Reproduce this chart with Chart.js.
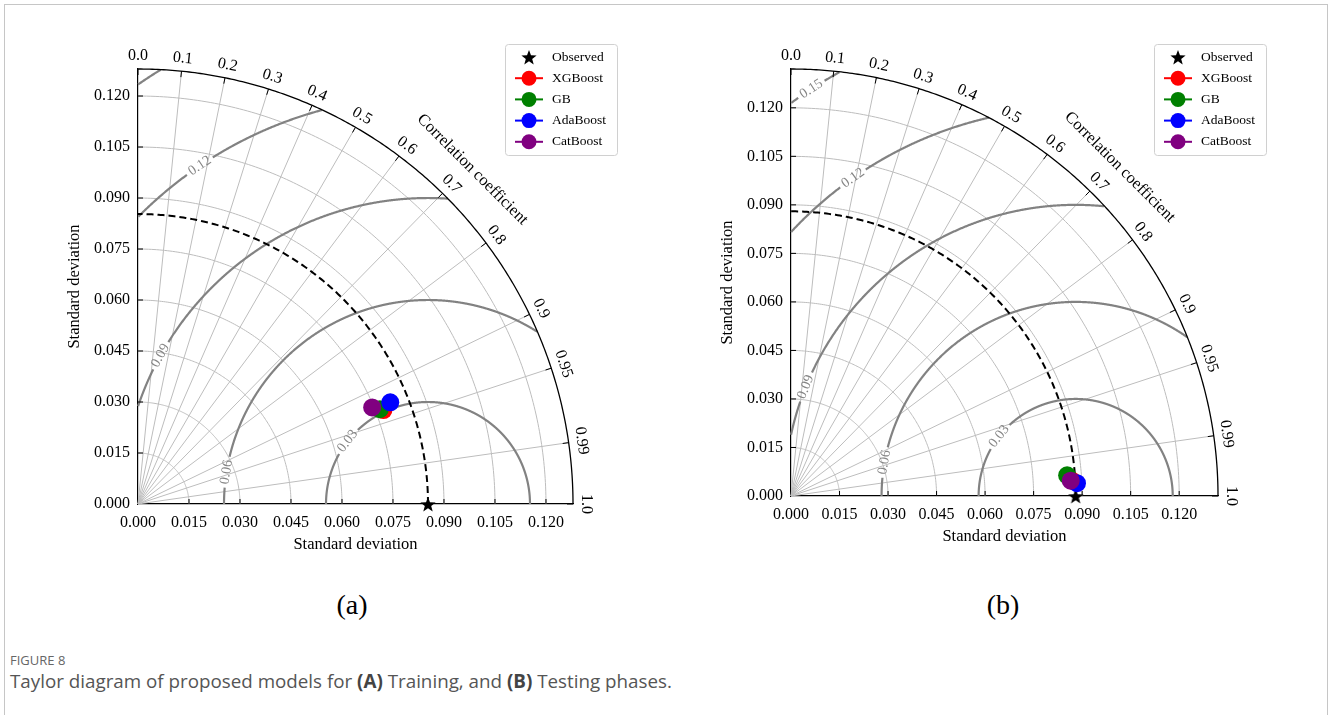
<!DOCTYPE html>
<html>
<head>
<meta charset="utf-8">
<script src="https://cdn.jsdelivr.net/npm/chart.js@4.4.1/dist/chart.umd.min.js"></script>
<style>
  html, body { margin: 0; padding: 0; background: #fff; }
  body { width: 1328px; height: 715px; position: relative; overflow: hidden; }
  #frame { position: absolute; left: 4px; top: 4px; width: 1322px; height: 740px; border: 1px solid #c6c6c6; }
  canvas { position: absolute; top: 0; }
  #cA { left: 0; }
  #cB { left: 660px; }
  .tag { position: absolute; top: 589px; width: 100px; text-align: center; font: 28px "Liberation Serif"; line-height: 32px; color: #000; }
  #fig { position: absolute; left: 10px; top: 651px; font: 13px "Open Sans"; color: #666; }
  #cap { position: absolute; left: 10px; top: 668px; font: 18.8px "Open Sans"; color: #555; white-space: nowrap; }
  #cap b { color: #444; }
</style>
</head>
<body>
<div id="frame"></div>
<canvas id="cA" width="660" height="570"></canvas>
<canvas id="cB" width="660" height="570"></canvas>
<div class="tag" style="left:302px">(a)</div>
<div class="tag" style="left:953px">(b)</div>
<div id="fig">FIGURE 8</div>
<div id="cap">Taylor diagram of proposed models for <b>(A)</b> Training, and <b>(B)</b> Testing phases.</div>
<script>
// data
const seriesNames = ['XGBoost', 'GB', 'AdaBoost', 'CatBoost'];

// (a) training
const refStdA = 0.0853;
const stdA = [0.0773, 0.0764, 0.0800, 0.0745];
const corrA = [0.934, 0.931, 0.9275, 0.9245];

// (b) testing
const refStdB = 0.0880;
const stdB = [0.0870, 0.0856, 0.0885, 0.0866];
const corrB = [0.9985, 0.9972, 0.9990, 0.9985];

const stdTicks = [0, 0.015, 0.030, 0.045, 0.060, 0.075, 0.090, 0.105, 0.120];
const corrTicks = [0, 0.1, 0.2, 0.3, 0.4, 0.5, 0.6, 0.7, 0.8, 0.9, 0.95, 0.99, 1.0];
const corrTickLabels = ['0.0', '0.1', '0.2', '0.3', '0.4', '0.5', '0.6', '0.7', '0.8', '0.9', '0.95', '0.99', '1.0'];
const rmsLevels = [0.03, 0.06, 0.09, 0.12, 0.15];

const colors = ['#ff0000', '#008000', '#0000ff', '#800080'];
const SERIF = '"Liberation Serif", "Times New Roman", serif';

function starImage(size) {
  const c = document.createElement('canvas');
  c.width = c.height = size;
  const g = c.getContext('2d');
  const R = size / 2, r = R * 0.42;
  g.beginPath();
  for (let i = 0; i < 10; i++) {
    const a = -Math.PI / 2 + i * Math.PI / 5;
    const rr = i % 2 ? r : R;
    g.lineTo(R + rr * Math.cos(a), R + 1 + rr * Math.sin(a));
  }
  g.closePath();
  g.fillStyle = '#000';
  g.fill();
  return c;
}
const star = starImage(16);

const taylor = {
  id: 'taylor',
  beforeDatasetsDraw(chart, args, o) {
    const ctx = chart.ctx;
    const xs = chart.scales.x, ys = chart.scales.y;
    const rmax = xs.max, ref = o.refStd;
    const P = (x, y) => [xs.getPixelForValue(x), ys.getPixelForValue(y)];
    const ppu = xs.getPixelForValue(1) - xs.getPixelForValue(0);
    const line = (pts, color, w, dash) => {
      ctx.beginPath();
      pts.forEach((p, i) => i ? ctx.lineTo(p[0], p[1]) : ctx.moveTo(p[0], p[1]));
      ctx.strokeStyle = color;
      ctx.lineWidth = w;
      ctx.setLineDash(dash || []);
      ctx.stroke();
      ctx.setLineDash([]);
    };
    const arcPts = (r, n) => {
      const out = [];
      for (let i = 0; i <= n; i++) {
        const t = i / n * Math.PI / 2;
        out.push(P(r * Math.cos(t), r * Math.sin(t)));
      }
      return out;
    };
    ctx.save();

    // std grid arcs + correlation rays
    stdTicks.filter(s => s > 0).forEach(s => line(arcPts(s, 150), '#bdbdbd', 1));
    corrTicks.filter(c => c > 0 && c < 1).forEach(c =>
      line([P(0, 0), P(rmax * c, rmax * Math.sqrt(1 - c * c))], '#bdbdbd', 1));

    // RMS difference contours
    ctx.font = '14px ' + SERIF;
    rmsLevels.forEach(L => {
      const ang = o.labelAngles[L];
      const txt = L.toFixed(2);
      let gap = null;
      if (ang !== undefined) {
        const d = (ctx.measureText(txt).width / 2 + 3) / (L * ppu);
        gap = [ang * Math.PI / 180 - d, ang * Math.PI / 180 + d];
      }
      const N = 1600;
      let run = [];
      for (let i = 0; i <= N; i++) {
        const f = i / N * Math.PI;
        const x = ref + L * Math.cos(f), y = L * Math.sin(f);
        const ok = x >= 0 && x * x + y * y <= rmax * rmax && !(gap && f > gap[0] && f < gap[1]);
        if (ok) run.push(P(x, y));
        else { if (run.length > 1) line(run, '#828282', 2.2); run = []; }
      }
      if (run.length > 1) line(run, '#828282', 2.2);
      if (ang !== undefined) {
        const a = ang * Math.PI / 180;
        const p = P(ref + L * Math.cos(a), L * Math.sin(a));
        let dx = -Math.sin(a), dy = -Math.cos(a);
        if (dx < 0) { dx = -dx; dy = -dy; }
        ctx.save();
        ctx.translate(p[0], p[1]);
        ctx.rotate(Math.atan2(dy, dx));
        ctx.fillStyle = '#858585';
        ctx.textAlign = 'center';
        ctx.textBaseline = 'middle';
        ctx.fillText(txt, 0, 0);
        ctx.restore();
      }
    });

    // reference std (dashed) and outer frame
    line(arcPts(ref, 200), '#000', 2, [7, 4]);
    line(arcPts(rmax, 240), '#000', 1.3);

    // inward ticks on both std axes
    stdTicks.filter(s => s > 0).forEach(s => {
      const a = P(s, 0), b = P(0, s);
      line([a, [a[0], a[1] - 5]], '#000', 1);
      line([b, [b[0] + 5, b[1]]], '#000', 1);
    });

    // correlation ticks and labels
    const O = P(0, 0);
    ctx.fillStyle = '#000';
    ctx.textAlign = 'center';
    ctx.textBaseline = 'middle';
    corrTicks.forEach((c, i) => {
      const E = P(rmax * c, rmax * Math.sqrt(1 - c * c));
      const len = Math.hypot(E[0] - O[0], E[1] - O[1]);
      const ux = (E[0] - O[0]) / len, uy = (E[1] - O[1]) / len;
      line([[E[0] - 6 * ux, E[1] - 6 * uy], E], '#000', 1);
      ctx.save();
      ctx.font = '16px ' + SERIF;
      ctx.translate(O[0] + (len + 13) * ux, O[1] + (len + 13) * uy);
      ctx.rotate(Math.PI / 2 + Math.atan2(uy, ux));
      ctx.fillText(corrTickLabels[i], 0, 0);
      ctx.restore();
    });
    {
      const c = Math.SQRT1_2;
      const E = P(rmax * c, rmax * c);
      const len = Math.hypot(E[0] - O[0], E[1] - O[1]);
      const ux = (E[0] - O[0]) / len, uy = (E[1] - O[1]) / len;
      ctx.save();
      ctx.font = '16.5px ' + SERIF;
      ctx.translate(O[0] + (len + 38) * ux, O[1] + (len + 38) * uy);
      ctx.rotate(Math.PI / 2 + Math.atan2(uy, ux));
      ctx.fillText('Correlation coefficient', 0, 0);
      ctx.restore();
    }
    ctx.restore();
  },
  afterDraw(chart, args, o) {
    const ctx = chart.ctx;
    const bx = chart.chartArea.left + o.legendDx, by = 44, bw = 112, bh = 111;
    ctx.save();
    ctx.fillStyle = '#fff';
    ctx.strokeStyle = '#d0d0d0';
    ctx.lineWidth = 1;
    ctx.beginPath();
    ctx.roundRect(bx + 0.5, by + 0.5, bw, bh, 3);
    ctx.fill();
    ctx.stroke();
    ctx.font = '13.5px ' + SERIF;
    ctx.textBaseline = 'middle';
    ctx.textAlign = 'left';
    chart.data.datasets.forEach((ds, i) => {
      const y = by + 13 + i * 21.2, mx = bx + 24;
      if (ds.pointStyle instanceof HTMLCanvasElement) {
        ctx.drawImage(ds.pointStyle, mx - ds.pointStyle.width / 2, y - ds.pointStyle.height / 2);
      } else {
        ctx.beginPath();
        ctx.moveTo(bx + 10, y);
        ctx.lineTo(bx + 38, y);
        ctx.strokeStyle = ds.pointBackgroundColor;
        ctx.lineWidth = 2;
        ctx.stroke();
        ctx.beginPath();
        ctx.arc(mx, y, 7.5, 0, Math.PI * 2);
        ctx.fillStyle = ds.pointBackgroundColor;
        ctx.fill();
      }
      ctx.fillStyle = '#000';
      ctx.fillText(ds.label, bx + 47, y);
    });
    ctx.restore();
  }
};

function makeChart(id, refStd, std, corr, lay) {
  const rmax = 1.5 * refStd;
  const datasets = [{
    label: 'Observed',
    data: [{ x: refStd, y: 0 }],
    pointStyle: star,
    pointRadius: 8,
    order: 10,
    clip: false
  }];
  seriesNames.forEach((name, i) => datasets.push({
    label: name,
    data: [{ x: std[i] * corr[i], y: std[i] * Math.sqrt(1 - corr[i] * corr[i]) }],
    pointBackgroundColor: colors[i],
    pointBorderColor: colors[i],
    pointBorderWidth: 0,
    pointRadius: 9,
    order: 4 - i,
    clip: false
  }));
  const tickFont = { family: SERIF, size: 16 };
  const titleFont = { family: SERIF, size: 16.5 };
  return new Chart(document.getElementById(id), {
    type: 'scatter',
    data: { datasets: datasets },
    options: {
      responsive: false,
      animation: false,
      devicePixelRatio: 1,
      events: [],
      layout: { padding: { left: lay.left, top: 69, right: lay.right, bottom: 0 } },
      plugins: {
        legend: { display: false },
        tooltip: { enabled: false },
        taylor: { refStd: refStd, labelAngles: lay.labelAngles, legendDx: lay.legendDx }
      },
      scales: {
        x: {
          type: 'linear', min: 0, max: rmax,
          afterBuildTicks: s => { s.ticks = stdTicks.map(v => ({ value: v })); },
          afterFit: s => { s.height = lay.xh; },
          grid: { display: false, drawTicks: false },
          border: { display: true, color: '#000', width: 1.2 },
          ticks: { autoSkip: false, maxRotation: 0, padding: 9, color: '#000', font: tickFont, callback: v => v.toFixed(3) },
          title: { display: true, text: 'Standard deviation', color: '#000', font: titleFont, padding: { top: 0, bottom: lay.tb } }
        },
        y: {
          type: 'linear', min: 0, max: rmax,
          afterBuildTicks: s => { s.ticks = stdTicks.map(v => ({ value: v })); },
          afterFit: s => { s.width = 108; },
          grid: { display: false, drawTicks: false },
          border: { display: true, color: '#000', width: 1.2 },
          ticks: { autoSkip: false, padding: 8, color: '#000', font: tickFont, callback: v => v.toFixed(3) },
          title: { display: true, text: 'Standard deviation', color: '#000', font: titleFont, padding: { top: 35, bottom: 0 } }
        }
      }
    },
    plugins: [taylor]
  });
}

makeChart('cA', refStdA, stdA, corrA, {
  left: 30, right: 87, xh: 66, tb: 15, legendDx: 367,
  labelAngles: { 0.03: 142, 0.06: 171, 0.09: 151, 0.12: 124 }
});
makeChart('cB', refStdB, stdB, corrB, {
  left: 23, right: 102, xh: 74, tb: 23, legendDx: 363,
  labelAngles: { 0.03: 142, 0.06: 170, 0.09: 158, 0.12: 125, 0.15: 123 }
});
</script>
</body>
</html>
